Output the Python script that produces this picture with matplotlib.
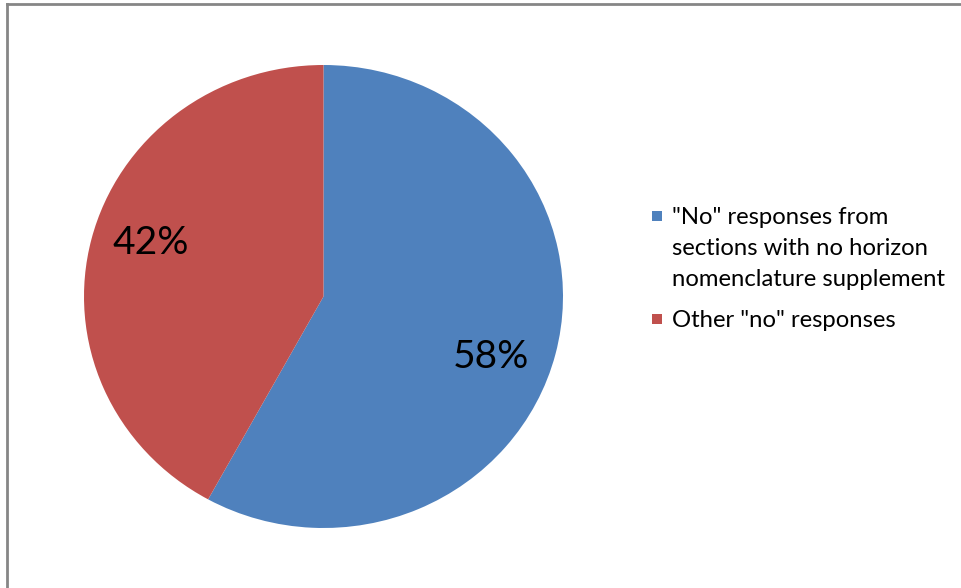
import matplotlib.pyplot as plt
from matplotlib.lines import Line2D
from matplotlib.patches import Rectangle

plt.rcParams['font.family'] = ['Lato', 'DejaVu Sans']

labels = ['"No" responses from\nsections with no horizon\nnomenclature supplement',
          'Other "no" responses']
values = [58, 42]
colors = ['#4F81BD', '#C0504D']

W, H = 961, 588
fig = plt.figure(figsize=(W / 100, H / 100), dpi=100)
fig.patch.set_facecolor('white')

# pie box in pixels: x 84..563, y 65..528 (slightly wider than tall, like the original)
ax = fig.add_axes([84 / W, 1 - 528 / H, 479 / W, 463 / H])
wedges, texts, autotexts = ax.pie(values, colors=colors, startangle=90, counterclock=False,
                                  autopct='%1.0f%%', pctdistance=0.73,
                                  wedgeprops=dict(linewidth=0),
                                  textprops=dict(fontsize=28, color='black'))
ax.set_aspect('auto')
ax.set_xlim(-1, 1)
ax.set_ylim(-1, 1)
ax.axis('off')

# nudge percent labels to where the original puts them
autotexts[0].set_position((0.70, -0.26))
autotexts[1].set_position((-0.72, 0.23))

# legend drawn by hand so the square sits on the first line
leg_top = [207, 310]
for lab, col, y in zip(labels, colors, leg_top):
    fig.patches.append(Rectangle((652 / W, 1 - (y + 14) / H), 10 / W, 10 / H,
                                 transform=fig.transFigure, facecolor=col, edgecolor='none'))
    fig.text(672 / W, 1 - y / H, lab, fontsize=17.2, va='top', ha='left',
             linespacing=1.58, color='black', transform=fig.transFigure)

# chart frame (top and left edges visible)
fig.add_artist(Line2D([7 / W, 1], [1 - 4 / H, 1 - 4 / H], color='#868686', lw=2))
fig.add_artist(Line2D([7 / W, 7 / W], [0, 1 - 4 / H], color='#868686', lw=2))

fig.savefig('out.png', dpi=100)
